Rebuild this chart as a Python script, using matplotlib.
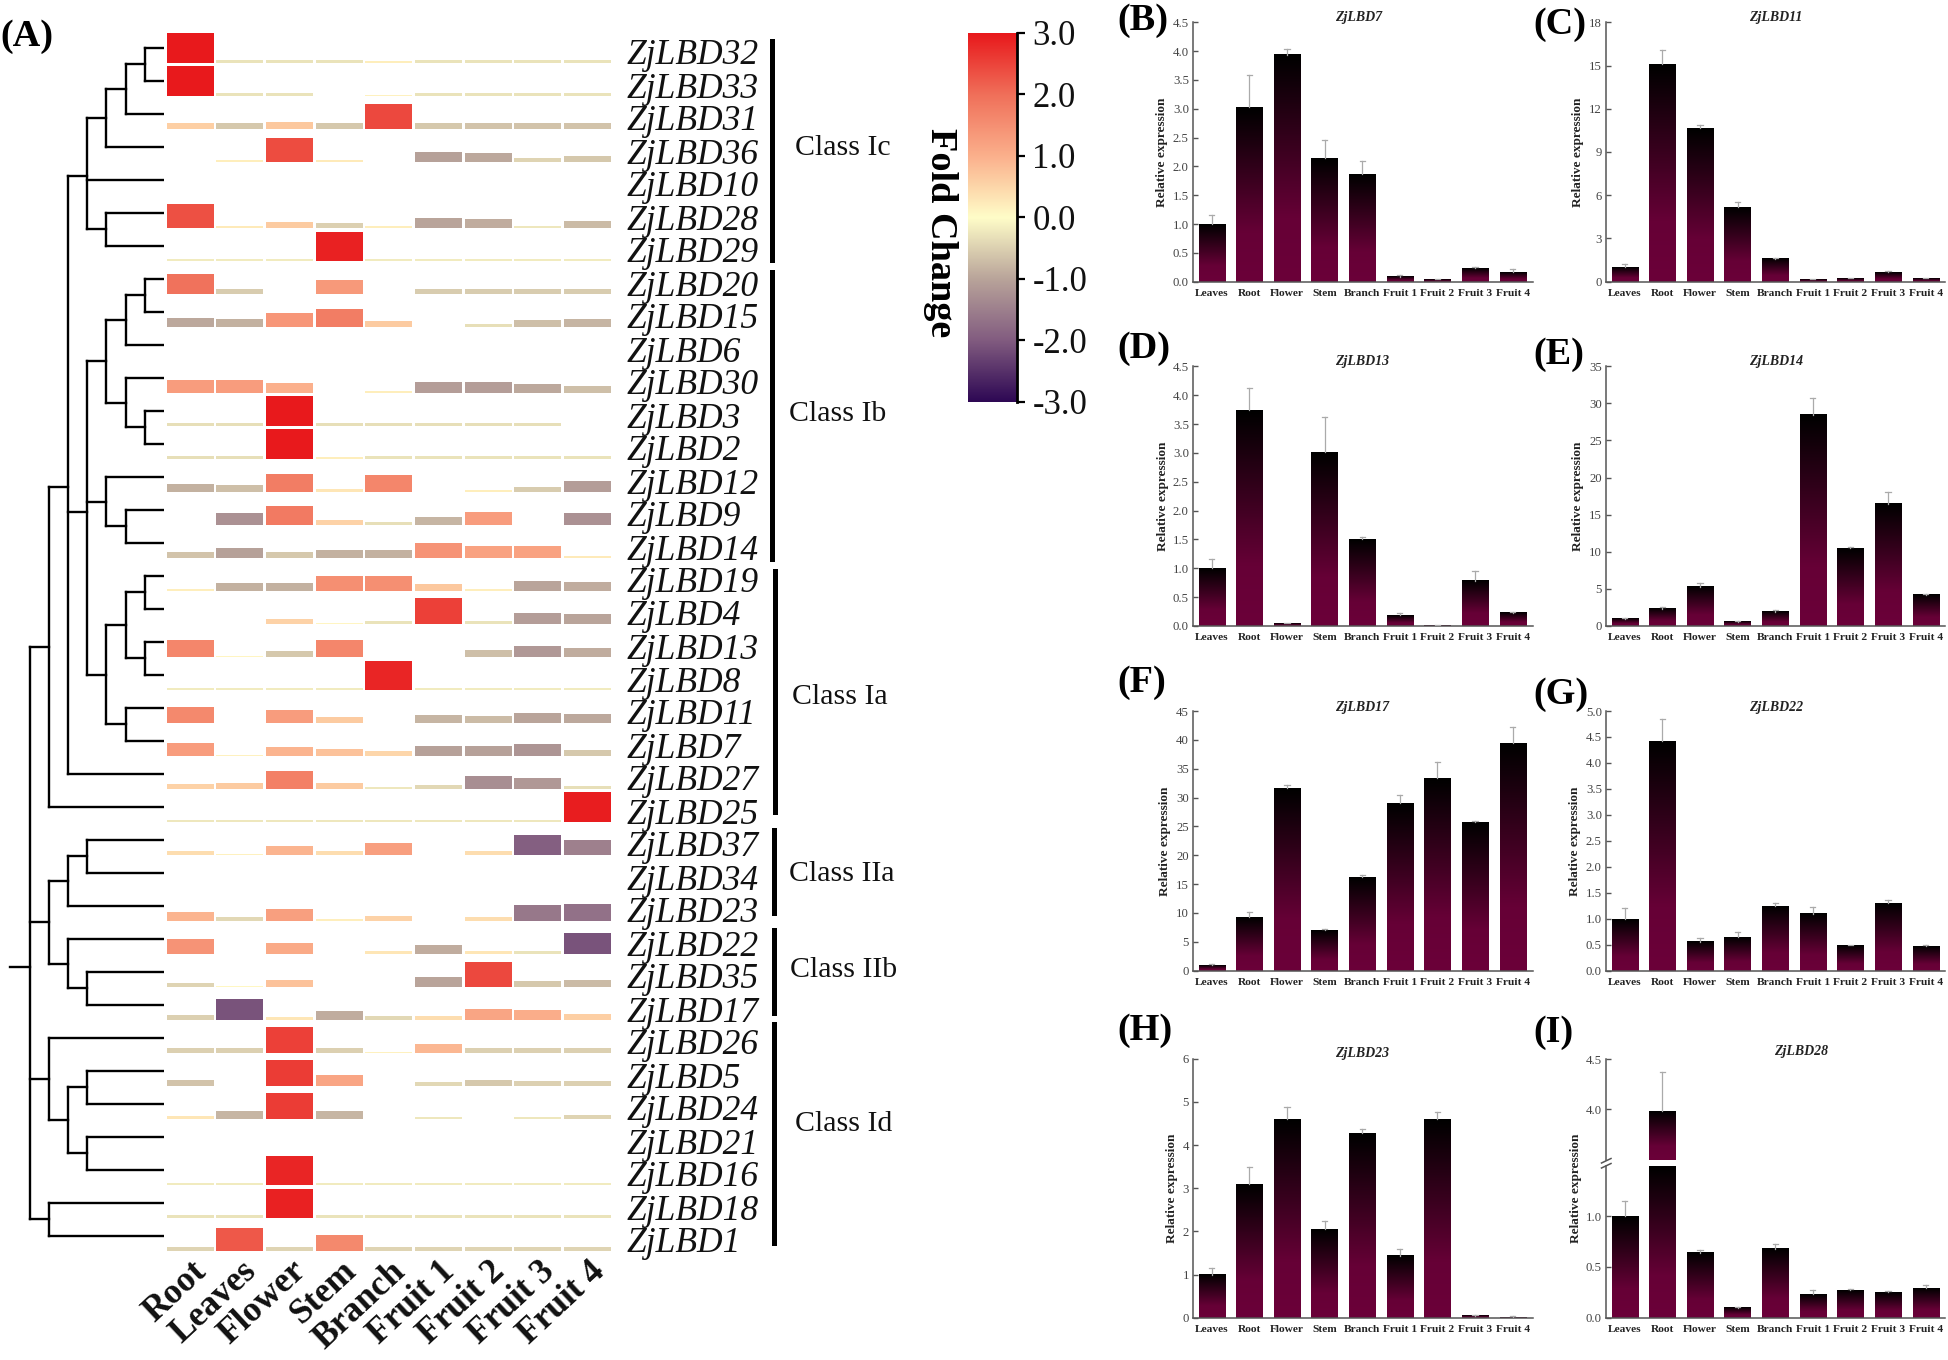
import numpy as np
import matplotlib
matplotlib.use('Agg')
import matplotlib.pyplot as plt
from matplotlib.colors import LinearSegmentedColormap, Normalize
from matplotlib.lines import Line2D
from matplotlib.patches import Rectangle

plt.rcParams['font.family'] = ['Liberation Serif', 'DejaVu Serif']

# Dane - heatmapa (A)
tissues = ['Root', 'Leaves', 'Flower', 'Stem', 'Branch', 'Fruit 1', 'Fruit 2', 'Fruit 3', 'Fruit 4']
genes = ['ZjLBD32', 'ZjLBD33', 'ZjLBD31', 'ZjLBD36', 'ZjLBD10', 'ZjLBD28', 'ZjLBD29', 'ZjLBD20',
         'ZjLBD15', 'ZjLBD6', 'ZjLBD30', 'ZjLBD3', 'ZjLBD2', 'ZjLBD12', 'ZjLBD9', 'ZjLBD14',
         'ZjLBD19', 'ZjLBD4', 'ZjLBD13', 'ZjLBD8', 'ZjLBD11', 'ZjLBD7', 'ZjLBD27', 'ZjLBD25',
         'ZjLBD37', 'ZjLBD34', 'ZjLBD23', 'ZjLBD22', 'ZjLBD35', 'ZjLBD17', 'ZjLBD26', 'ZjLBD5',
         'ZjLBD24', 'ZjLBD21', 'ZjLBD16', 'ZjLBD18', 'ZjLBD1']
heat_values = [
    [3.0, -0.3, -0.3, -0.3, 0.2, -0.3, -0.3, -0.3, -0.3],
    [3.0, -0.3, -0.3, 0, 0.15, -0.3, -0.3, -0.3, -0.3],
    [0.6, -0.6, 0.7, -0.6, 2.45, -0.6, -0.65, -0.65, -0.65],
    [0, 0.2, 2.4, 0.25, 0, -1.05, -0.95, -0.45, -0.6],
    [0, 0, 0, 0, 0, 0, 0, 0, 0],
    [2.35, 0.25, 0.65, -0.5, 0.2, -1.0, -0.9, -0.25, -0.75],
    [-0.2, -0.2, -0.2, 2.9, -0.2, -0.2, -0.2, -0.2, -0.2],
    [1.95, -0.55, 0, 1.35, 0, -0.55, -0.55, -0.55, -0.55],
    [-0.95, -0.85, 1.4, 1.8, 0.65, 0, -0.35, -0.7, -0.8],
    [0, 0, 0, 0, 0, 0, 0, 0, 0],
    [1.3, 1.3, 1.0, 0, 0.2, -1.1, -1.1, -0.95, -0.7],
    [-0.35, -0.35, 3.0, -0.35, -0.35, -0.35, -0.35, -0.35, 0.05],
    [-0.35, -0.35, 3.0, 0.2, -0.3, -0.3, -0.3, -0.3, -0.3],
    [-0.85, -0.7, 1.8, 0.3, 1.65, 0, 0.2, -0.55, -1.1],
    [0, -1.25, 1.85, 0.55, -0.35, -0.8, 1.3, 0.03, -1.25],
    [-0.65, -1.05, -0.6, -0.85, -0.85, 1.45, 1.2, 1.2, 0.25],
    [0.2, -0.85, -0.85, 1.5, 1.5, 0.7, 0.2, -1.0, -0.9],
    [0.03, 0, 0.55, 0.1, -0.3, 2.55, -0.3, -1.1, -1.0],
    [1.65, 0.1, -0.6, 1.65, 0.03, 0, -0.7, -1.15, -0.9],
    [-0.2, -0.2, -0.2, -0.2, 2.85, -0.2, -0.2, -0.2, -0.2],
    [1.6, 0, 1.3, 0.65, 0.05, -0.8, -0.75, -1.0, -0.95],
    [1.3, 0.15, 0.95, 0.75, 0.5, -1.05, -1.05, -1.2, -0.6],
    [0.55, 0.65, 1.75, 0.65, -0.25, -0.4, -1.3, -1.15, -0.35],
    [-0.25, -0.25, -0.25, -0.25, -0.25, -0.25, -0.25, -0.25, 2.95],
    [0.4, 0.15, 0.95, 0.4, 1.25, 0.03, 0.4, -1.95, -1.5],
    [0, 0, 0, 0, 0, 0, 0, 0, 0],
    [0.95, -0.4, 1.25, 0.2, 0.55, 0, 0.4, -1.6, -1.7],
    [1.45, 0.03, 1.1, 0, 0.3, -0.9, 0.3, -0.3, -2.1],
    [-0.45, 0.08, 0.75, 0, 0, -1.0, 2.45, -0.6, -0.75],
    [-0.5, -2.1, 0.3, -0.9, -0.4, 0.4, 1.15, 1.05, 0.6],
    [-0.5, -0.5, 2.55, -0.5, 0.15, 0.9, -0.5, -0.5, -0.5],
    [-0.65, 0, 2.6, 1.15, 0, -0.4, -0.6, -0.5, -0.5],
    [0.3, -0.8, 2.6, -0.8, 0, -0.25, 0.02, -0.25, -0.45],
    [0, 0, 0, 0, 0, 0, 0, 0, 0],
    [-0.2, -0.2, 2.85, -0.2, -0.2, -0.2, -0.2, -0.2, -0.2],
    [-0.3, -0.3, 2.9, -0.3, -0.3, -0.3, -0.3, -0.3, -0.3],
    [-0.45, 2.25, -0.45, 1.6, -0.45, -0.45, -0.45, -0.45, -0.45],
]

# Klasy
class_names = ['Class Ic', 'Class Ib', 'Class Ia', 'Class IIa', 'Class IIb', 'Class Id']
class_spans = [(38.8, 263), (270, 561.6), (568.6, 815), (827.6, 916.4), (927.7, 1016.4), (1022, 1246)]

# Dane - slupki (B-I)
bar_names = ['Leaves', 'Root', 'Flower', 'Stem', 'Branch', 'Fruit 1', 'Fruit 2', 'Fruit 3', 'Fruit 4']
lbd7 = [1.0, 3.03, 3.94, 2.15, 1.87, 0.09, 0.04, 0.24, 0.17]
lbd7_top = [1.15, 3.59, 4.04, 2.45, 2.1, 0.11, 0.05, 0.25, 0.22]
lbd11 = [1.0, 15.1, 10.65, 5.2, 1.6, 0.2, 0.23, 0.68, 0.25]
lbd11_top = [1.2, 16.1, 10.9, 5.5, 1.65, 0.22, 0.25, 0.72, 0.27]
lbd13 = [1.0, 3.74, 0.05, 3.01, 1.5, 0.19, 0.01, 0.78, 0.23]
lbd13_top = [1.16, 4.12, 0.06, 3.63, 1.55, 0.23, 0.02, 0.96, 0.24]
lbd14 = [1.0, 2.3, 5.3, 0.6, 1.9, 28.5, 10.5, 16.5, 4.2]
lbd14_top = [1.1, 2.6, 5.85, 0.65, 2.1, 30.7, 10.6, 18.0, 4.3]
lbd17 = [1.0, 9.3, 31.6, 7.1, 16.2, 29.1, 33.4, 25.8, 39.5]
lbd17_top = [1.1, 10.1, 32.2, 7.3, 16.6, 30.5, 36.2, 26.0, 42.2]
lbd22 = [1.0, 4.42, 0.56, 0.65, 1.25, 1.1, 0.49, 1.3, 0.48]
lbd22_top = [1.2, 4.84, 0.62, 0.74, 1.3, 1.22, 0.5, 1.37, 0.49]
lbd23 = [1.0, 3.1, 4.6, 2.05, 4.28, 1.44, 4.6, 0.05, 0.02]
lbd23_top = [1.15, 3.5, 4.87, 2.25, 4.37, 1.58, 4.76, 0.06, 0.03]
lbd28 = [1.0, 3.98, 0.64, 0.1, 0.68, 0.23, 0.27, 0.25, 0.29]
lbd28_top = [1.15, 4.37, 0.67, 0.105, 0.72, 0.27, 0.28, 0.26, 0.32]

W, H = 1949, 1360
fig = plt.figure(figsize=(W / 100, H / 100), dpi=100, facecolor='white')


def px_axes(x0, y0, x1, y1):
    # y0 - gora, y1 - dol (w pikselach obrazka)
    return fig.add_axes([x0 / W, 1 - y1 / H, (x1 - x0) / W, (y1 - y0) / H])


def px_text(x, y, s, **kw):
    return fig.text(x / W, 1 - y / H, s, **kw)


heat_cmap = LinearSegmentedColormap.from_list('fold', [
    (0.0, '#2e0854'), (1 / 6, '#825c80'), (2 / 6, '#b9a49a'), (0.5, '#fffdc8'),
    (4 / 6, '#fbb08c'), (5 / 6, '#f0705a'), (1.0, '#e8191c')])
norm = Normalize(-3, 3)

# Heatmapa: wysokosc komorki zalezy od wartosci
ax = px_axes(165.2, 30.3, 612.3, 1251.3)
for i, row in enumerate(heat_values):
    for j, v in enumerate(row):
        if v != 0:
            ax.bar(j, -abs(v) / 3 * 0.93, bottom=i + 1, width=0.946, color=heat_cmap(norm(v)), linewidth=0)
ax.set_xlim(-0.5, 8.5)
ax.set_ylim(37, 0)
ax.axis('off')

for i, g in enumerate(genes):
    px_text(626.5, 56 + 33 * i, g, fontsize=25.6, style='italic', va='center', ha='left', color='#111111')

for j, t in enumerate(tissues):
    ax.text(j + 0.02, 37.1, t, rotation=43, ha='right', va='top', rotation_mode='anchor',
            fontsize=25.5, fontweight='bold', color='#111111', clip_on=False)

# Dendrogram: (poziom, dzieci, opcjonalnie y wezla); liscie to indeksy wierszy
axt = px_axes(10.4, 30.3, 164, 1251.3)
axt.set_xlim(8, 0)
axt.set_ylim(37, 0)
axt.axis('off')


def leaf_y(i):
    return i + 0.53


def draw_node(node):
    if isinstance(node, int):
        return 0, leaf_y(node)
    level, children = node[0], node[1]
    ys = []
    for c in children:
        child_level, y = draw_node(c)
        axt.plot([child_level, level], [y, y], color='black', lw=1.7, solid_capstyle='projecting')
        ys.append(y)
    axt.plot([level, level], [min(ys), max(ys)], color='black', lw=1.7, solid_capstyle='projecting')
    return level, node[2] if len(node) > 2 else (min(ys) + max(ys)) / 2


ic_top = (3, [(2, [(1, [0, 1]), 2]), 3])
ic = (4, [ic_top, 4, (3, [5, 6])], 4.42)
ib1 = (3, [(2, [(1, [7, 8]), 9]), (2, [10, (1, [11, 12])])])
ib2 = (3, [13, (2, [14, 15])])
ia = (3, [(2, [(1, [16, 17]), (1, [18, 19])]), (2, [20, 21])])
mid = (4, [ib1, ib2, ia], 14.6)
big = (5, [ic, mid, 22], 13.84)
top = (6, [big, 23])
two_a = (5, [(4, [24, 25]), 26])
two_b = (5, [27, (4, [28, 29])])
two = (6, [two_a, two_b])
id_part = (6, [30, (5, [(4, [31, 32]), (4, [33, 34])])])
last = (6, [35, 36])
tree = (7, [top, two, id_part, last], 28.4)
lvl, root_y = draw_node(tree)
axt.plot([lvl, 8], [root_y, root_y], color='black', lw=1.7, clip_on=False)

# Klasy
for name, (y0, y1), bx, tx, ty in zip(class_names, class_spans,
                                      [772.5, 772.5, 775.5, 774.5, 774.5, 774.5],
                                      [795, 789, 792, 789, 790, 795],
                                      [148, 414, 696.6, 874, 970, 1124]):
    fig.add_artist(Rectangle((bx / W - 2.2 / W, 1 - y1 / H), 4.4 / W, (y1 - y0) / H,
                             transform=fig.transFigure, color='black', linewidth=0))
    px_text(tx, ty, name, fontsize=21.5, va='center', ha='left', color='#111111')

# Pasek kolorow
axc = px_axes(968, 32.7, 1017, 401.7)
axc.imshow(np.linspace(3, -3, 256).reshape(-1, 1), cmap=heat_cmap, norm=norm, aspect='auto', extent=[0, 1, -3, 3])
axc.set_xticks([])
axc.yaxis.tick_right()
axc.set_yticks([3, 2, 1, 0, -1, -2, -3])
axc.set_yticklabels(['3.0', '2.0', '1.0', '0.0', '-1.0', '-2.0', '-3.0'], fontsize=25, color='#111111')
axc.tick_params(axis='y', length=6, width=1.6, pad=5, color='black')
for s in ['top', 'left', 'bottom']:
    axc.spines[s].set_visible(False)
axc.spines['right'].set_linewidth(2.0)
px_text(941, 232.5, 'Fold Change', fontsize=27.5, fontweight='bold', rotation=270, ha='center', va='center')

# Slupki z gradientem
bar_cmap = LinearSegmentedColormap.from_list('bar', [(0, '#000000'), (0.72, '#660036'), (1, '#6b0039')])
ramp = np.linspace(0, 1, 128).reshape(-1, 1)
grey = '#555555'


def draw_bars(a, values, tops, ylim):
    x = np.arange(len(values))
    a.bar(x, values, width=0.7, color='#660036', linewidth=0, zorder=1)
    for xi, v in zip(x, values):
        lo, hi = ylim[0], min(v, ylim[1])
        if hi > lo:
            a.imshow(ramp, cmap=bar_cmap, vmin=0, vmax=1, aspect='auto', zorder=2,
                     extent=[xi - 0.35, xi + 0.35, lo, hi])
    for xi, v, t in zip(x, values, tops):
        if ylim[0] <= t <= ylim[1]:
            a.plot([xi, xi], [v, t], color='#aaaaaa', lw=0.9, zorder=3)
            a.plot([xi - 0.07, xi + 0.07], [t, t], color='#aaaaaa', lw=0.9, zorder=3)
    a.set_xlim(-0.497, 8.526)
    a.set_ylim(*ylim)
    for s in ['top', 'right']:
        a.spines[s].set_visible(False)
    for s in ['left', 'bottom']:
        a.spines[s].set_color(grey)
        a.spines[s].set_linewidth(1.1)
    a.tick_params(axis='y', direction='in', length=3.4, width=1.0, color=grey, labelcolor='#444444',
                  labelsize=9.2, pad=3)


def panel(x0, y0, y1, values, tops, ymax, ticks, ticklabels, title, title_xy, ylabel_x):
    a = px_axes(x0, y0, x0 + 339.5, y1)
    draw_bars(a, values, tops, (0, ymax))
    a.set_yticks(ticks)
    a.set_yticklabels(ticklabels)
    a.set_xticks(range(9))
    a.set_xticklabels(bar_names, fontsize=8.2, fontweight='bold', color='#222222')
    a.tick_params(axis='x', length=0, pad=5)
    px_text(title_xy[0], title_xy[1], title, fontsize=10, fontweight='bold', style='italic',
            ha='center', va='center', color='#222222')
    px_text(ylabel_x, (y0 + y1) / 2, 'Relative expression', fontsize=9.5, fontweight='bold',
            rotation=90, ha='center', va='center', color='#222222')
    return a


half = [f'{t:.1f}' for t in np.arange(0, 4.6, 0.5)]
panel(1193, 22.3, 281.7, lbd7, lbd7_top, 4.5, np.arange(0, 4.6, 0.5), half, 'ZjLBD7', (1359, 18), 1162)
panel(1606, 22.3, 281.7, lbd11, lbd11_top, 18, [0, 3, 6, 9, 12, 15, 18], ['0', '3', '6', '9', '12', '15', '18'],
      'ZjLBD11', (1776, 18), 1578)
panel(1193, 366.3, 626, lbd13, lbd13_top, 4.5, np.arange(0, 4.6, 0.5), half, 'ZjLBD13', (1362, 362), 1162.7)
panel(1606, 366.3, 626, lbd14, lbd14_top, 35, range(0, 36, 5), [str(t) for t in range(0, 36, 5)],
      'ZjLBD14', (1776, 362), 1578)
panel(1193, 711, 970.7, lbd17, lbd17_top, 45, range(0, 46, 5), [str(t) for t in range(0, 46, 5)],
      'ZjLBD17', (1362, 707), 1165)
panel(1606, 711, 970.7, lbd22, lbd22_top, 5, np.arange(0, 5.1, 0.5), [f'{t:.1f}' for t in np.arange(0, 5.1, 0.5)],
      'ZjLBD22', (1776, 707), 1575)
panel(1193, 1058.7, 1317.7, lbd23, lbd23_top, 6, range(7), [str(t) for t in range(7)],
      'ZjLBD23', (1362, 1053), 1171.7)

# Panel I - os z przerwa
low = panel(1606, 1165.7, 1317.7, lbd28, lbd28_top, 1.495, [0, 0.5, 1.0], ['0.0', '0.5', '1.0'],
            'ZjLBD28', (1801, 1051), 1576)
fig.texts[-1].set_y(1 - 1188 / H)
up = px_axes(1606, 1059, 1945.5, 1160)
draw_bars(up, lbd28, lbd28_top, (3.496, 4.5))
up.set_yticks([4.0, 4.5])
up.set_yticklabels(['4.0', '4.5'])
up.set_xticks([])
up.spines['bottom'].set_visible(False)
for dy in [-1.5, 3.5]:
    fig.add_artist(Line2D([1601.5 / W, 1611 / W], [1 - (1164.5 + dy) / H, 1 - (1160 + dy) / H],
                          color=grey, lw=1.1))

# Litery paneli
panel_labels = ['(A)', '(B)', '(C)', '(D)', '(E)', '(F)', '(G)', '(H)', '(I)']
label_x = [0, 1117, 1533, 1117, 1533, 1117, 1533, 1117, 1533]
label_y = [36, 20, 24, 349, 354, 682, 694, 1030, 1033]
for s, lx, ly in zip(panel_labels, label_x, label_y):
    px_text(lx, ly, s, fontsize=27.5, fontweight='bold', ha='left', va='center', color='black')

fig.savefig('out.png', dpi=100, facecolor='white')
